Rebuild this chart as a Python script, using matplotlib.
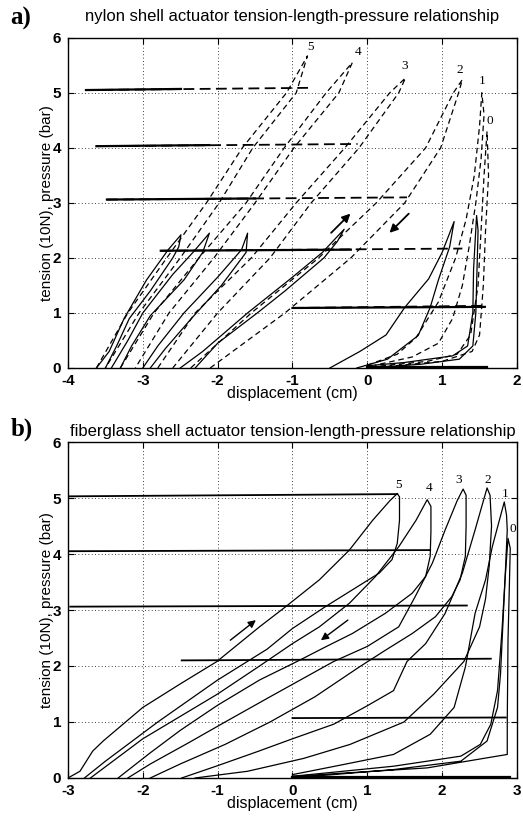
import matplotlib
matplotlib.use("Agg")
import matplotlib.pyplot as plt

plt.rcParams['font.family'] = ['Liberation Sans', 'DejaVu Sans']
plt.rcParams['axes.unicode_minus'] = False

# ---------------- panel a: nylon shell ----------------
# solid loops (loading up to tip, then unloading back down)
a_s5_x = [-3.62, -3.45, -3.25, -2.95, -2.66, -2.49, -2.52, -2.6, -2.9, -3.18, -3.35, -3.5]
a_s5_y = [0, 0.3, 0.9, 1.6, 2.15, 2.42, 2.2, 2.0, 1.4, 0.9, 0.4, 0]
a_s4_x = [-3.42, -3.2, -3.0, -2.6, -2.33, -2.11, -2.2, -2.45, -2.9, -3.15, -3.3]
a_s4_y = [0, 0.5, 1.0, 1.7, 2.1, 2.45, 2.1, 1.6, 0.95, 0.4, 0]
a_s3_x = [-3.0, -2.8, -2.45, -2.0, -1.68, -1.6, -1.62, -1.95, -2.35, -2.7, -2.9]
a_s3_y = [0, 0.4, 1.0, 1.65, 2.15, 2.45, 2.1, 1.5, 0.9, 0.35, 0]
a_s2_x = [-2.5, -2.2, -1.6, -1.0, -0.6, -0.31, -0.4, -0.58, -1.1, -1.47, -2.0, -2.3]
a_s2_y = [0, 0.3, 1.0, 1.65, 2.1, 2.52, 2.3, 2.0, 1.4, 1.0, 0.45, 0]
a_s1_x = [-0.5, -0.1, 0.25, 0.5, 0.82, 1.0, 1.16, 1.1, 0.95, 0.84, 0.68, 0.27, -0.14]
a_s1_y = [0, 0.3, 0.6, 1.1, 1.62, 2.1, 2.66, 2.2, 1.6, 1.1, 0.59, 0.16, 0]
a_s0_x = [0.0, 0.5, 1.14, 1.34, 1.41, 1.42, 1.46, 1.48, 1.46, 1.45, 1.41, 1.23, 0.73, 0.05]
a_s0_y = [0.04, 0.1, 0.22, 0.4, 1.0, 1.8, 2.77, 2.5, 1.5, 1.0, 0.4, 0.16, 0.07, 0]

# dashed loops
a_d5_x = [-3.62, -3.2, -2.68, -2.15, -1.67, -1.08, -0.8, -0.95, -1.53, -1.98, -2.5, -3.05, -3.5]
a_d5_y = [0, 1, 2, 3, 4, 5, 5.67, 5, 4, 3, 2, 1, 0]
a_d4_x = [-3.3, -2.85, -2.25, -1.62, -1.11, -0.55, -0.2, -0.38, -0.98, -1.5, -2.05, -2.65, -3.1]
a_d4_y = [0, 1, 2, 3, 4, 5, 5.55, 5, 4, 3, 2, 1, 0]
a_d3_x = [-2.8, -2.3, -1.55, -0.95, -0.3, 0.3, 0.51, 0.42, -0.11, -0.75, -1.3, -2.0, -2.6]
a_d3_y = [0, 1, 2, 3, 4, 5, 5.27, 5, 4, 3, 2, 1, 0]
a_d2_x = [-2.36, -1.55, -0.65, 0.12, 0.78, 1.15, 1.27, 1.22, 0.98, 0.5, -0.22, -1.1, -2.1]
a_d2_y = [0, 1, 2, 3, 4, 5, 5.24, 5, 4, 3, 2, 1, 0]
a_d1_x = [0.0, 0.4, 0.65, 0.95, 1.18, 1.32, 1.43, 1.5, 1.53, 1.56, 1.52, 1.45, 1.36, 1.27, 1.14, 0.95, 0.6, 0.1]
a_d1_y = [0.05, 0.25, 0.55, 1.2, 2.0, 2.7, 3.5, 4.4, 5.0, 4.6, 3.8, 3.0, 2.2, 1.5, 0.9, 0.45, 0.2, 0.05]
a_d0_x = [0.05, 0.8, 1.2, 1.38, 1.48, 1.52, 1.56, 1.6, 1.62, 1.58, 1.55, 1.5, 1.4, 1.0, 0.2]
a_d0_y = [0.02, 0.12, 0.25, 0.6, 1.5, 2.5, 3.5, 4.3, 3.5, 2.5, 1.5, 0.6, 0.3, 0.12, 0.02]

# pressure traces: level, start, end of solid run, end of dashed run
a_p_level = [5.05, 4.03, 3.06, 2.13, 1.09]
a_p_start = [-3.76, -3.62, -3.48, -2.76, -1.0]
a_p_solid_end = [-2.49, -2.11, -1.5, -0.22, 1.57]
a_p_dash_end = [-0.78, -0.13, 0.53, 1.27, 1.57]

a_lbl = ['5', '4', '3', '2', '1', '0']
a_lbl_x = [-0.76, -0.13, 0.5, 1.24, 1.53, 1.64]
a_lbl_y = [5.84, 5.75, 5.49, 5.41, 5.21, 4.49]

# ---------------- panel b: fiberglass shell ----------------
b_5_x = [-3.0, -2.84, -2.67, -2.53, -2.0, -1.5, -1.01, -0.44, -0.09, 0.36, 0.76, 1.07, 1.3, 1.4,
         1.43, 1.43, 1.4, 1.33, 1.16, 0.8, 0.44, 0.0, -0.34, -1.0, -1.8, -2.2, -2.5, -2.78]
b_5_y = [0, 0.12, 0.48, 0.66, 1.26, 1.68, 2.08, 2.7, 3.06, 3.54, 4.07, 4.6, 4.95, 5.08,
         5.02, 4.6, 4.19, 3.9, 3.66, 3.36, 3.06, 2.67, 2.3, 1.75, 1.0, 0.6, 0.3, 0]
b_4_x = [-2.7, -2.4, -2.0, -1.5, -1.0, -0.44, 0.0, 0.36, 0.76, 1.11, 1.42, 1.65, 1.8,
         1.85, 1.85, 1.84, 1.78, 1.6, 1.24, 0.8, 0.44, 0.09, -0.44, -1.0, -1.5, -1.9, -2.33]
b_4_y = [0, 0.3, 0.7, 1.1, 1.5, 2.0, 2.4, 2.7, 3.12, 3.6, 4.13, 4.6, 4.97,
         4.85, 4.4, 3.96, 3.6, 3.3, 2.94, 2.58, 2.34, 2.1, 1.75, 1.3, 0.85, 0.45, 0]
b_3_x = [-2.2, -1.9, -1.4, -0.9, -0.3, 0.55, 1.0, 1.42, 1.64, 1.87, 2.04, 2.2, 2.28,
         2.32, 2.32, 2.31, 2.24, 2.13, 1.91, 1.6, 1.24, 0.89, 0.3, -0.3, -0.9, -1.5, -1.9]
b_3_y = [0, 0.25, 0.62, 1.0, 1.45, 2.08, 2.35, 2.7, 3.24, 3.84, 4.43, 4.95, 5.16,
         5.05, 4.5, 3.96, 3.54, 3.24, 2.88, 2.58, 2.28, 1.98, 1.45, 1.0, 0.6, 0.25, 0]
b_2_x = [-1.48, -1.0, -0.45, 0.0, 0.55, 1.0, 1.35, 1.53, 1.78, 2.04, 2.27, 2.44, 2.6,
         2.64, 2.66, 2.63, 2.58, 2.5, 2.29, 1.89, 1.49, 0.77, 0.15, -0.6, -1.3]
b_2_y = [0, 0.22, 0.48, 0.7, 0.96, 1.29, 1.56, 2.08, 2.4, 2.94, 3.66, 4.43, 5.18,
         5.05, 4.5, 3.8, 3.2, 2.7, 2.08, 1.5, 1.0, 0.6, 0.35, 0.12, 0]
b_1_x = [0.0, 0.68, 1.35, 1.84, 2.16, 2.31, 2.44, 2.58, 2.67, 2.83,
         2.86, 2.87, 2.84, 2.8, 2.74, 2.65, 2.51, 2.25, 1.35, 0.0]
b_1_y = [0.06, 0.24, 0.42, 0.78, 1.26, 1.98, 2.94, 3.54, 4.13, 4.93,
         4.7, 4.43, 3.54, 2.64, 1.56, 0.96, 0.6, 0.39, 0.21, 0.03]
b_0_x = [0.0, 1.35, 2.25, 2.6, 2.74, 2.78, 2.84, 2.88,
         2.91, 2.9, 2.88, 2.87, 2.87, 2.6, 1.8, 0.0]
b_0_y = [0.0, 0.15, 0.3, 0.66, 1.26, 1.86, 3.54, 4.28,
         4.1, 3.54, 2.46, 1.0, 0.42, 0.36, 0.18, 0.03]

b_p_level = [5.03, 4.05, 3.06, 2.1, 1.07]
b_p_level_end = [5.07, 4.07, 3.08, 2.13, 1.08]
b_p_start = [-3.0, -3.0, -2.97, -1.48, 0.0]
b_p_end = [1.4, 1.84, 2.33, 2.65, 2.85]

b_lbl = ['5', '4', '3', '2', '1', '0']
b_lbl_x = [1.41, 1.82, 2.22, 2.61, 2.84, 2.94]
b_lbl_y = [5.24, 5.18, 5.33, 5.33, 5.08, 4.44]

fig = plt.figure(figsize=(5.23, 8.21), dpi=100)
ax_a = fig.add_axes([0.130, 0.5518, 0.8585, 0.4022])
ax_b = fig.add_axes([0.130, 0.0524, 0.8585, 0.4092])

lw = 0.9
dash = (0, (4.5, 3))


def style(ax, xlim, title, tpad):
    ax.set_xlim(*xlim)
    ax.set_ylim(0, 6)
    ax.set_xticks(range(xlim[0], xlim[1] + 1))
    ax.set_yticks(range(0, 7))
    ax.grid(True, color='black', linestyle=(0, (1, 3)), linewidth=0.6)
    ax.tick_params(direction='in', top=True, right=True, length=4, labelsize=11)
    ax.tick_params(axis='x', pad=4)
    ax.tick_params(axis='y', pad=5)
    for lab in ax.get_xticklabels() + ax.get_yticklabels():
        lab.set_fontweight('bold')
    for s in ax.spines.values():
        s.set_linewidth(1.0)
    ax.set_xlabel('displacement (cm)', fontsize=11.5, labelpad=-1)
    ax.set_ylabel('tension (10N), pressure (bar)', fontsize=11, labelpad=-1)
    ax.set_title(title, fontsize=12, pad=tpad)


style(ax_a, (-4, 2), 'nylon shell actuator tension-length-pressure relationship', 12)
style(ax_b, (-3, 3), 'fiberglass shell actuator tension-length-pressure relationship', 4)

# panel a curves
for xs, ys in [(a_s5_x, a_s5_y), (a_s4_x, a_s4_y), (a_s3_x, a_s3_y),
               (a_s2_x, a_s2_y), (a_s1_x, a_s1_y), (a_s0_x, a_s0_y)]:
    ax_a.plot(xs, ys, color='black', lw=lw)
for xs, ys in [(a_d5_x, a_d5_y), (a_d4_x, a_d4_y), (a_d3_x, a_d3_y),
               (a_d2_x, a_d2_y), (a_d1_x, a_d1_y), (a_d0_x, a_d0_y)]:
    ax_a.plot(xs, ys, color='black', lw=lw, linestyle=dash)
for lev, x0, xs_end, xd_end in zip(a_p_level, a_p_start, a_p_solid_end, a_p_dash_end):
    ax_a.plot([x0, xd_end], [lev, lev + 0.04], color='black', lw=1.3, linestyle=(0, (6, 3)))
    ax_a.plot([x0, xs_end], [lev, lev + 0.02], color='black', lw=1.6)
ax_a.plot([0, 1.6], [0.01, 0.01], color='black', lw=1.6)
for t, x, y in zip(a_lbl, a_lbl_x, a_lbl_y):
    ax_a.text(x, y, t, family='Liberation Serif', fontsize=9.5, ha='center', va='center')
ax_a.annotate('', xy=(-0.2, 2.84), xytext=(-0.51, 2.42),
              arrowprops=dict(arrowstyle='-|>', color='black', lw=1.3, mutation_scale=12))
ax_a.annotate('', xy=(0.27, 2.42), xytext=(0.58, 2.84),
              arrowprops=dict(arrowstyle='-|>', color='black', lw=1.3, mutation_scale=12))

# panel b curves
for xs, ys in [(b_5_x, b_5_y), (b_4_x, b_4_y), (b_3_x, b_3_y),
               (b_2_x, b_2_y), (b_1_x, b_1_y), (b_0_x, b_0_y)]:
    ax_b.plot(xs, ys, color='black', lw=lw)
for lev, lev_end, x0, x1 in zip(b_p_level, b_p_level_end, b_p_start, b_p_end):
    ax_b.plot([x0, x1], [lev, lev_end], color='black', lw=1.3)
ax_b.plot([0, 2.9], [0.01, 0.01], color='black', lw=1.6)
for t, x, y in zip(b_lbl, b_lbl_x, b_lbl_y):
    ax_b.text(x, y, t, family='Liberation Serif', fontsize=9.5, ha='center', va='center')
ax_b.annotate('', xy=(-0.46, 2.85), xytext=(-0.86, 2.43),
              arrowprops=dict(arrowstyle='-|>', color='black', lw=1.0, mutation_scale=11))
ax_b.annotate('', xy=(0.35, 2.43), xytext=(0.77, 2.85),
              arrowprops=dict(arrowstyle='-|>', color='black', lw=1.0, mutation_scale=11))

fig.text(0.02, 0.977, 'a)', family='Liberation Serif', fontsize=18, fontweight='bold', va='center')
fig.text(0.02, 0.477, 'b)', family='Liberation Serif', fontsize=18, fontweight='bold', va='center')

fig.savefig('out.png', dpi=100)
